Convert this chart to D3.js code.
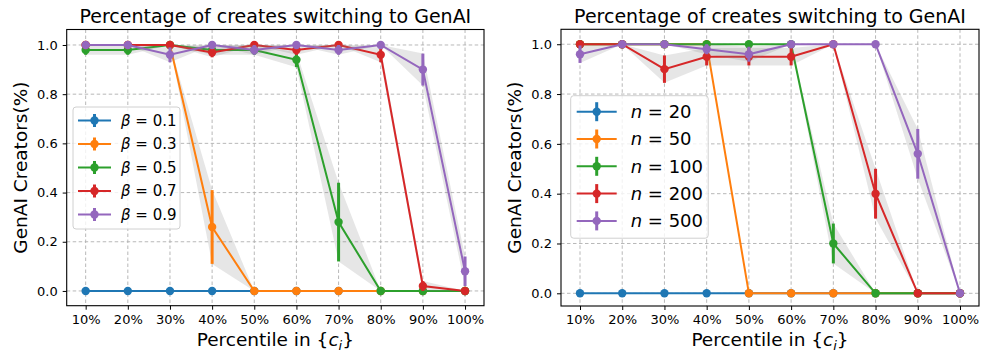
<!DOCTYPE html>
<html>
<head>
<meta charset="utf-8">
<script src="https://cdn.jsdelivr.net/npm/d3@7"></script>
<style>
  body { margin: 0; background: #fff; }
  svg { font-family: "DejaVu Sans", sans-serif; }
  .grid line { stroke: #b0b0b0; stroke-width: 0.9; stroke-dasharray: 3.5,2.5; }
</style>
</head>
<body>
<div class="chart"></div>
<script>
// x categories (shared by both panels)
var pctLabels = ["10%", "20%", "30%", "40%", "50%", "60%", "70%", "80%", "90%", "100%"];
var yTicks = [0, 0.2, 0.4, 0.6, 0.8, 1.0];

// left panel: beta
var betaNames = ["0.1", "0.3", "0.5", "0.7", "0.9"];
var beta01Mean = [0, 0, 0, 0, 0, 0, 0, 0, 0, 0];
var beta01Err  = [0, 0, 0, 0, 0, 0, 0, 0, 0, 0];
var beta03Mean = [1, 1, 1, 0.26, 0, 0, 0, 0, 0, 0];
var beta03Err  = [0, 0, 0, 0.15, 0, 0, 0, 0, 0, 0];
var beta05Mean = [0.98, 0.98, 1, 0.98, 0.98, 0.94, 0.28, 0, 0, 0];
var beta05Err  = [0.02, 0.02, 0, 0.02, 0.02, 0.03, 0.16, 0, 0, 0];
var beta07Mean = [1, 1, 1, 0.97, 1, 0.98, 1, 0.96, 0.02, 0];
var beta07Err  = [0, 0, 0, 0.02, 0, 0.02, 0, 0.03, 0.02, 0];
var beta09Mean = [1, 1, 0.96, 1, 0.98, 1, 0.98, 1, 0.90, 0.08];
var beta09Err  = [0, 0, 0.03, 0, 0.02, 0, 0.02, 0, 0.065, 0.06];

// right panel: n
var nNames = ["20", "50", "100", "200", "500"];
var n20Mean  = [0, 0, 0, 0, 0, 0, 0, 0, 0, 0];
var n20Err   = [0, 0, 0, 0, 0, 0, 0, 0, 0, 0];
var n50Mean  = [1, 1, 1, 1, 0, 0, 0, 0, 0, 0];
var n50Err   = [0, 0, 0, 0, 0, 0, 0, 0, 0, 0];
var n100Mean = [1, 1, 1, 1, 1, 1, 0.2, 0, 0, 0];
var n100Err  = [0, 0, 0, 0, 0, 0, 0.08, 0, 0, 0];
var n200Mean = [1, 1, 0.9, 0.95, 0.95, 0.95, 1, 0.4, 0, 0];
var n200Err  = [0, 0, 0.055, 0.035, 0.035, 0.035, 0, 0.1, 0, 0];
var n500Mean = [0.96, 1, 1, 0.98, 0.96, 1, 1, 1, 0.56, 0];
var n500Err  = [0.035, 0, 0, 0.02, 0.03, 0, 0, 0, 0.1, 0];

var colors = ["#1f77b4", "#ff7f0e", "#2ca02c", "#d62728", "#9467bd"];

var svg = d3.select(".chart").append("svg")
    .attr("width", 1001)
    .attr("height", 361);

function drawPanel(p) {
  var x = d3.scaleLinear().domain([-0.45, pctLabels.length - 0.55]).range([p.left, p.right]);
  var y = d3.scaleLinear().domain(p.ydom).range([p.bottom, p.top]);
  var g = svg.append("g");

  // grid
  var grid = g.append("g").attr("class", "grid");
  grid.selectAll("line.v").data(pctLabels).enter().append("line")
      .attr("x1", function(d, i) { return x(i); }).attr("x2", function(d, i) { return x(i); })
      .attr("y1", p.top).attr("y2", p.bottom);
  grid.selectAll("line.h").data(yTicks).enter().append("line")
      .attr("y1", function(d) { return y(d); }).attr("y2", function(d) { return y(d); })
      .attr("x1", p.left).attr("x2", p.right);

  var area = d3.area()
      .x(function(d, i) { return x(i); })
      .y0(function(d) { return y(d[0] - d[1]); })
      .y1(function(d) { return y(d[0] + d[1]); });
  var line = d3.line()
      .x(function(d, i) { return x(i); })
      .y(function(d) { return y(d); });

  p.series.forEach(function(s, k) {
    var pairs = s.mean.map(function(m, i) { return [m, s.err[i], i]; });
    g.append("path").attr("d", area(pairs))
        .attr("fill", "#808080").attr("fill-opacity", 0.2).attr("stroke", "none");
    g.append("path").attr("d", line(s.mean))
        .attr("fill", "none").attr("stroke", colors[k]).attr("stroke-width", 2);
    // error bars
    g.selectAll(null).data(pairs.filter(function(d) { return d[1] > 0; }))
        .enter().append("line")
        .attr("x1", function(d) { return x(d[2]); })
        .attr("x2", function(d) { return x(d[2]); })
        .attr("y1", function(d) { return y(d[0] - d[1]); })
        .attr("y2", function(d) { return y(d[0] + d[1]); })
        .attr("stroke", colors[k]).attr("stroke-width", 3);
    g.selectAll(null).data(s.mean).enter().append("circle")
        .attr("cx", function(d, i) { return x(i); })
        .attr("cy", function(d) { return y(d); })
        .attr("r", 4.2).attr("fill", colors[k]);
  });

  // axes
  var xAxis = d3.axisBottom(x).tickValues(d3.range(pctLabels.length))
      .tickFormat(function(i) { return pctLabels[i]; }).tickSize(4).tickPadding(5);
  var yAxis = d3.axisLeft(y).tickValues(yTicks).tickFormat(d3.format(".1f")).tickSize(4).tickPadding(5);
  var xa = g.append("g").attr("transform", "translate(0," + p.bottom + ")").call(xAxis);
  var ya = g.append("g").attr("transform", "translate(" + p.left + ",0)").call(yAxis);
  [xa, ya].forEach(function(a) {
    a.select(".domain").remove();
    a.selectAll("text").attr("font-size", "13px").attr("fill", "#000").attr("font-family", "DejaVu Sans");
    a.selectAll("line").attr("stroke", "#000").attr("stroke-width", 1);
  });
  g.append("rect").attr("x", p.left).attr("y", p.top)
      .attr("width", p.right - p.left).attr("height", p.bottom - p.top)
      .attr("fill", "none").attr("stroke", "#000").attr("stroke-width", 1.1);

  var cx = (p.left + p.right) / 2;
  g.append("text").attr("x", cx).attr("y", 22.5).attr("text-anchor", "middle")
      .attr("font-size", "19px").text("Percentage of creates switching to GenAI");
  var xl = g.append("text").attr("x", cx).attr("y", 346).attr("text-anchor", "middle")
      .attr("font-size", "18.5px");
  xl.append("tspan").text("Percentile in {");
  xl.append("tspan").attr("font-style", "italic").text("c");
  xl.append("tspan").attr("font-style", "italic").attr("font-size", "13px").attr("dy", 4).text("i");
  xl.append("tspan").attr("dy", -4).text("}");
  g.append("text")
      .attr("transform", "translate(" + p.ylabX + "," + ((p.top + p.bottom) / 2) + ") rotate(-90)")
      .attr("text-anchor", "middle").attr("font-size", "18.5px").text("GenAI Creators(%)");

  // legend
  var L = p.legend;
  var lg = g.append("g");
  lg.append("rect").attr("x", L.x).attr("y", L.y).attr("width", L.w).attr("height", L.h)
      .attr("rx", 3).attr("fill", "#fff").attr("fill-opacity", 0.8)
      .attr("stroke", "#d0d0d0").attr("stroke-width", 1);
  p.series.forEach(function(s, k) {
    var yy = L.y + L.first + k * L.step;
    var x0 = L.x + L.pad, x1 = x0 + L.len, xm = (x0 + x1) / 2;
    lg.append("line").attr("x1", x0).attr("x2", x1).attr("y1", yy).attr("y2", yy)
        .attr("stroke", colors[k]).attr("stroke-width", 2);
    lg.append("line").attr("x1", xm).attr("x2", xm).attr("y1", yy - L.bar / 2).attr("y2", yy + L.bar / 2)
        .attr("stroke", colors[k]).attr("stroke-width", 3);
    lg.append("circle").attr("cx", xm).attr("cy", yy).attr("r", 4.2).attr("fill", colors[k]);
    var t = lg.append("text").attr("x", x1 + L.gap).attr("y", yy).attr("dy", "0.36em")
        .attr("font-size", L.font + "px");
    t.append("tspan").attr("font-style", "italic").text(p.sym);
    t.append("tspan").text(" = " + s.name);
  });
}

drawPanel({
  left: 66.7, right: 484, top: 29.5, bottom: 305.7, ydom: [-0.06, 1.063], ylabX: 27,
  sym: "β",
  series: betaNames.map(function(nm, k) {
    return { name: nm,
      mean: [beta01Mean, beta03Mean, beta05Mean, beta07Mean, beta09Mean][k],
      err: [beta01Err, beta03Err, beta05Err, beta07Err, beta09Err][k] };
  }),
  legend: { x: 73, y: 107, w: 107, h: 122, first: 13.5, step: 23.5, pad: 5, len: 33, bar: 13, gap: 10, font: 15 }
});

drawPanel({
  left: 561, right: 979, top: 29.3, bottom: 306, ydom: [-0.051, 1.06], ylabX: 521,
  sym: "n",
  series: nNames.map(function(nm, k) {
    return { name: nm,
      mean: [n20Mean, n50Mean, n100Mean, n200Mean, n500Mean][k],
      err: [n20Err, n50Err, n100Err, n200Err, n500Err][k] };
  }),
  legend: { x: 570.7, y: 95.7, w: 137.5, h: 142.5, first: 16, step: 27.3, pad: 6, len: 40, bar: 19, gap: 14, font: 18 }
});
</script>
</body>
</html>
